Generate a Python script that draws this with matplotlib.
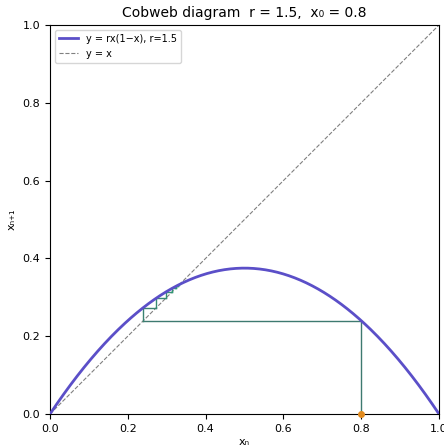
import numpy as np
import matplotlib
matplotlib.use("Agg")
import matplotlib.pyplot as plt

r = 1.5
x0 = 0.8

# orbit x_n of the logistic map (as read / worked from the title values)
orbit = [0.8, 0.24, 0.2736, 0.2981, 0.3139, 0.3230, 0.3280, 0.3306, 0.3320]

ticks = [0.0, 0.2, 0.4, 0.6, 0.8, 1.0]

fig = plt.figure(figsize=(4.44, 4.48), dpi=100)
ax = fig.add_axes([50 / 444, 1 - 414 / 448, 389 / 444, 389 / 448])

xs = np.linspace(0, 1, 400)
ax.plot(xs, r * xs * (1 - xs), color="#5b4fc8", lw=2, label="y = rx(1\u2212x), r=1.5", zorder=3)
ax.plot([0, 1], [0, 1], color="gray", ls="--", lw=0.8, label="y = x", zorder=2)

# cobweb, dark teal -> green
c_start = np.array(matplotlib.colors.to_rgb("#3e7a70"))
c_end = np.array(matplotlib.colors.to_rgb("#25b07a"))
n = len(orbit) - 1
for i in range(n):
    t = i / max(n - 1, 1)
    c = tuple(c_start + (c_end - c_start) * t)
    xa, xb = orbit[i], orbit[i + 1]
    y0 = 0 if i == 0 else xa
    ax.plot([xa, xa], [y0, xb], color=c, lw=1, zorder=2.5)
    ax.plot([xa, xb], [xb, xb], color=c, lw=1, zorder=2.5)

ax.plot([x0], [0], marker="o", color="#e08a1e", ms=4, zorder=4, clip_on=False)

ax.set_xlim(0, 1)
ax.set_ylim(0, 1)
ax.set_xticks(ticks)
ax.set_yticks(ticks)
ax.tick_params(labelsize=8)
ax.set_xlabel("x\u2099", fontsize=8, labelpad=2)
ax.set_ylabel("x\u2099\u208a\u2081", fontsize=8)
ax.set_title("Cobweb diagram  r = 1.5,  x\u2080 = 0.8", fontsize=10)
ax.legend(loc="upper left", fontsize=7)

fig.savefig("out.png", dpi=100)
